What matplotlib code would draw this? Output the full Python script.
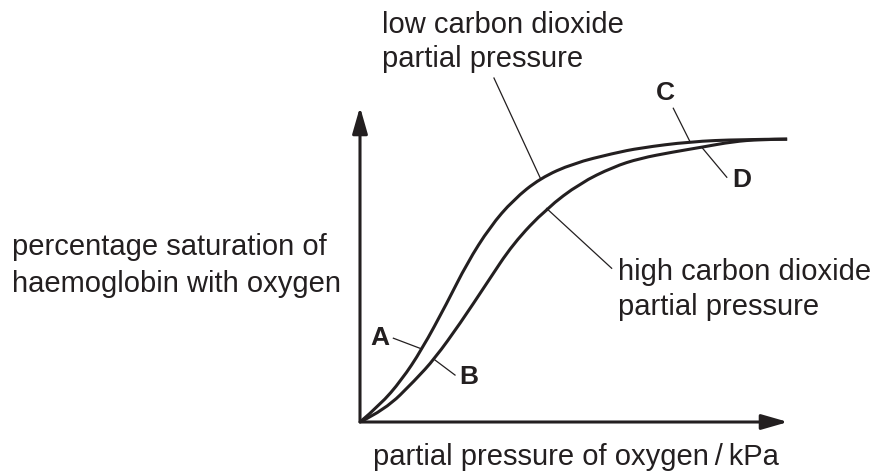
import matplotlib
matplotlib.use('Agg')
import matplotlib.pyplot as plt
from matplotlib.path import Path
from matplotlib.patches import PathPatch

INK = '#231f20'

# oxygen dissociation curves
# x: partial pressure of oxygen (axis span 0-100), y: % saturation (axis span 0-100)
low_co2_x = [0, 4.7, 9.7, 14.4, 20.3, 25.0, 30.4, 35.8, 42.1, 49.8, 59.2, 65.4, 77.1, 88.8, 99.8]
low_co2_y = [0, 5.4, 13.3, 22.9, 37.7, 50.4, 62.0, 70.5, 77.4, 82.1, 85.3, 87.0, 89.0, 89.7, 89.8]

high_co2_x = [0, 5.8, 12.9, 17.5, 23.4, 29.6, 35.8, 43.6, 51.4, 59.2, 65.4, 73.1, 80.1, 87.1, 93.5, 99.8]
high_co2_y = [0, 3.8, 13.3, 20.2, 31.3, 44.0, 56.7, 67.8, 75.8, 81.0, 83.7, 85.7, 87.3, 89.0, 89.7, 89.8]

# leader lines: (x0, y0, x1, y1)
leaders = {
    'low': (31.3, 109.2, 42.1, 77.5),
    'high': (43.6, 67.8, 58.8, 48.8),
    'A': (7.8, 26.6, 14.4, 23.2),
    'B': (17.5, 19.7, 22.2, 14.9),
    'C': (73.2, 99.6, 77.1, 89.0),
    'D': (79.8, 87.3, 85.7, 77.7),
}
letters = {'A': (4.7, 26.7), 'B': (25.5, 14.2), 'C': (71.3, 104.3), 'D': (89.2, 76.8)}


def smooth_path(xs, ys):
    # quadratic bezier through the traced points, so the curve has no corners
    pts = list(zip(xs, ys))
    verts = [pts[0]]
    codes = [Path.MOVETO]
    for i in range(1, len(pts) - 1):
        mid = ((pts[i][0] + pts[i + 1][0]) / 2, (pts[i][1] + pts[i + 1][1]) / 2)
        end = pts[i + 1] if i == len(pts) - 2 else mid
        verts += [pts[i], end]
        codes += [Path.CURVE3, Path.CURVE3]
    return Path(verts, codes)


plt.rcParams['font.family'] = ['Liberation Sans', 'DejaVu Sans']

fig = plt.figure(figsize=(8.75, 4.72), dpi=100, facecolor='white')
ax = fig.add_axes([0.41143, 0.10593, 0.48914, 0.66737])
ax.set_xlim(0, 100)
ax.set_ylim(0, 100)
ax.axis('off')

# axes with arrow heads
arrow = dict(arrowstyle='-|>,head_length=0.8,head_width=0.23', mutation_scale=20,
             lw=2.2, color=INK, shrinkA=0, shrinkB=0)
ax.annotate('', xy=(0, 100), xytext=(0, 0), arrowprops=arrow, annotation_clip=False)
ax.annotate('', xy=(100, 0), xytext=(0, 0), arrowprops=arrow, annotation_clip=False)

for xs, ys in ((low_co2_x, low_co2_y), (high_co2_x, high_co2_y)):
    ax.add_patch(PathPatch(smooth_path(xs, ys), facecolor='none', edgecolor=INK,
                           lw=2.2, clip_on=False, capstyle='butt'))

for x0, y0, x1, y1 in leaders.values():
    ax.plot([x0, x1], [y0, y1], color=INK, lw=0.9, clip_on=False)

for name, (x, y) in letters.items():
    ax.text(x, y, name, fontsize=19, fontweight='bold', color=INK,
            ha='center', va='center', clip_on=False)

fs = 21
fig.text(0.0137, 0.4597, 'percentage saturation of', fontsize=fs, color=INK, va='baseline')
fig.text(0.0137, 0.3820, 'haemoglobin with oxygen', fontsize=fs, color=INK, va='baseline')
fig.text(0.4366, 0.9300, 'low carbon dioxide', fontsize=fs, color=INK, va='baseline')
fig.text(0.4366, 0.8580, 'partial pressure', fontsize=fs, color=INK, va='baseline')
fig.text(0.7063, 0.4068, 'high carbon dioxide', fontsize=fs, color=INK, va='baseline')
fig.text(0.7063, 0.3331, 'partial pressure', fontsize=fs, color=INK, va='baseline')
fig.text(0.426, 0.0148, 'partial pressure of oxygen\u2009/\u2009kPa', fontsize=fs, color=INK, va='baseline')

fig.savefig('out.png', dpi=100, facecolor='white')
